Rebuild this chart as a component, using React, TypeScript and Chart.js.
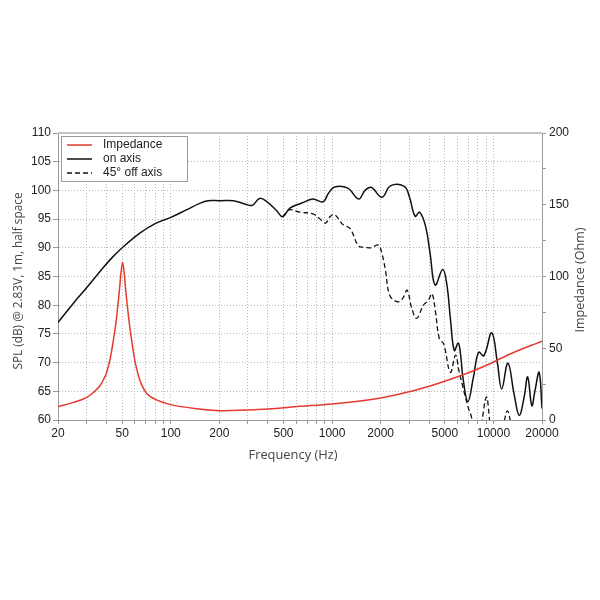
import React, { useEffect, useRef } from "react";
import { Chart, registerables } from "chart.js";

Chart.register(...registerables);

// ---- Data ----
const onAxisFreq = [20, 25, 30, 36, 43, 50, 64, 80, 100, 125, 150, 170, 200, 245, 290, 320, 355, 392, 455, 494, 547, 650, 760, 878, 950, 1035, 1250, 1460, 1600, 1755, 2036, 2300, 2800, 3013, 3270, 3490, 3800, 4050, 4350, 4850, 5150, 5420, 5720, 6050, 6250, 6470, 6950, 7510, 8090, 8720, 9760, 10600, 11250, 12300, 13450, 14450, 15500, 16300, 17300, 18060, 19200, 20000];
const onAxisSPL = [77.0, 80.4, 83.0, 85.7, 88.2, 90.0, 92.5, 94.2, 95.3, 96.6, 97.7, 98.2, 98.2, 98.2, 97.6, 97.4, 98.6, 98.1, 96.4, 95.4, 96.9, 97.8, 98.5, 98.0, 99.5, 100.6, 100.4, 98.5, 100.0, 100.5, 98.8, 100.8, 100.7, 98.9, 95.5, 96.2, 93.7, 89.0, 83.5, 86.2, 83.5, 77.4, 72.1, 73.4, 71.5, 67.4, 63.2, 67.4, 71.8, 71.2, 75.2, 69.8, 65.4, 69.9, 64.4, 60.8, 64.0, 67.5, 62.5, 65.0, 68.3, 62.0];

const offAxisFreq = [494, 542, 631, 760, 835, 910, 970, 1035, 1170, 1290, 1460, 1600, 1755, 1930, 2036, 2140, 2280, 2550, 2740, 2920, 3100, 3340, 3680, 3960, 4160, 4360, 4620, 4910, 5410, 5820, 6110, 6470, 6970, 7310, 7700, 8200, 8500, 9050, 9400, 9700, 11000, 11700, 12200, 12700, 13500];
const offAxisSPL = [95.4, 96.6, 96.2, 95.9, 95.1, 94.3, 95.4, 95.8, 94.0, 93.4, 90.3, 90.1, 90.0, 90.5, 89.0, 86.1, 81.7, 80.6, 81.2, 82.6, 79.7, 77.7, 80.0, 80.9, 82.0, 79.1, 74.2, 73.3, 68.3, 71.3, 68.6, 65.7, 62.2, 60.5, 57.0, 57.5, 60.0, 64.0, 61.0, 57.0, 57.0, 60.0, 61.6, 60.0, 56.0];

const impFreq = [20, 25, 30, 33, 36.5, 38, 40, 42, 44, 46, 48, 49.3, 50.3, 51.3, 52.6, 55, 57.3, 60, 63, 66, 71, 80, 100, 150, 200, 300, 400, 630, 1000, 2000, 3230, 5320, 8720, 12700, 20000];
const impOhm = [9.3, 12.3, 15.6, 19.0, 24.0, 27.5, 33.0, 42.0, 55.0, 70.0, 90.0, 104.0, 110.0, 104.0, 90.0, 70.0, 55.0, 41.0, 31.0, 24.5, 18.5, 14.5, 10.7, 7.7, 6.5, 7.0, 7.7, 9.5, 11.2, 15.4, 20.5, 28.0, 37.3, 46.0, 55.0];

const freqGrid = [20, 30, 40, 50, 60, 70, 80, 90, 100, 200, 300, 400, 500, 600, 700, 800, 900, 1000, 2000, 3000, 4000, 5000, 6000, 7000, 8000, 9000, 10000, 20000];
const freqLabels = [20, 50, 100, 200, 500, 1000, 2000, 5000, 10000, 20000];
const ohmLabels = [0, 50, 100, 150, 200];

const seriesNames = ["Impedance", "on axis", "45\u00b0 off axis"];
const titleLeft = "SPL (dB) @ 2.83V, 1m, half space";
const titleRight = "Impedance (Ohm)";
const titleBottom = "Frequency (Hz)";

const RED = "#e53a2f";
const TICK_FONT = "'Liberation Sans Narrow', 'Liberation Sans', Arial, sans-serif";
const TITLE_FONT = "'Open Sans', 'Noto Sans', sans-serif";

function fitText(ctx: CanvasRenderingContext2D, text: string, cx: number, cy: number, rot: number, target: number) {
  ctx.save();
  ctx.font = `13px ${TITLE_FONT}`;
  ctx.fillStyle = "#444";
  ctx.textAlign = "center";
  ctx.textBaseline = "middle";
  const w = ctx.measureText(text).width;
  const s = target / w;
  ctx.translate(cx, cy);
  ctx.rotate(rot);
  ctx.scale(s, 1);
  ctx.fillText(text, 0, 0);
  ctx.restore();
}

const decorPlugin = {
  id: "decor",
  afterDraw(chart: any) {
    const ctx = chart.ctx as CanvasRenderingContext2D;
    const a = chart.chartArea;
    // top frame line
    ctx.save();
    ctx.strokeStyle = "#c4c4c4";
    ctx.lineWidth = 2;
    ctx.beginPath();
    ctx.moveTo(a.left, a.top);
    ctx.lineTo(a.right, a.top);
    ctx.stroke();
    ctx.restore();

    // legend box
    const lx = a.left + 3, ly = a.top + 3, lw = 126, lh = 45;
    ctx.save();
    ctx.fillStyle = "#fff";
    ctx.fillRect(lx, ly, lw, lh);
    ctx.strokeStyle = "#9a9a9a";
    ctx.lineWidth = 1;
    ctx.strokeRect(lx + 0.5, ly + 0.5, lw, lh);
    chart.data.datasets.forEach((ds: any, i: number) => {
      const y = ly + 9 + i * 14;
      ctx.strokeStyle = ds.borderColor;
      ctx.lineWidth = 1.5;
      ctx.setLineDash(ds.borderDash || []);
      ctx.beginPath();
      ctx.moveTo(lx + 6, y);
      ctx.lineTo(lx + 31, y);
      ctx.stroke();
      ctx.setLineDash([]);
      ctx.fillStyle = "#222";
      ctx.font = `12px ${TICK_FONT}`;
      ctx.textAlign = "left";
      ctx.textBaseline = "middle";
      ctx.fillText(ds.label, lx + 42, y);
    });
    ctx.restore();

    // axis titles
    fitText(ctx, titleLeft, 18.5, 281, -Math.PI / 2, 177);
    fitText(ctx, titleRight, 580, 280, -Math.PI / 2, 105);
    fitText(ctx, titleBottom, 293, 455, 0, 89);
  },
};

export default function App() {
  const ref = useRef<HTMLCanvasElement | null>(null);

  useEffect(() => {
    if (!ref.current) return;
    const toPts = (xs: number[], ys: number[]) => xs.map((x, i) => ({ x, y: ys[i] }));
    const chart = new Chart(ref.current, {
      type: "line",
      data: {
        datasets: [
          {
            label: seriesNames[0],
            data: toPts(impFreq, impOhm),
            yAxisID: "yR",
            borderColor: RED,
            borderWidth: 1.5,
            pointRadius: 0,
            cubicInterpolationMode: "monotone",
          },
          {
            label: seriesNames[1],
            data: toPts(onAxisFreq, onAxisSPL),
            yAxisID: "y",
            borderColor: "#111",
            borderWidth: 1.5,
            pointRadius: 0,
            tension: 0.4,
          },
          {
            label: seriesNames[2],
            data: toPts(offAxisFreq, offAxisSPL),
            yAxisID: "y",
            borderColor: "#111",
            borderWidth: 1.3,
            borderDash: [5, 3],
            pointRadius: 0,
            tension: 0.4,
          },
        ],
      },
      options: {
        animation: false,
        responsive: false,
        parsing: false as any,
        layout: { padding: { top: 133, left: 0, right: 0, bottom: 0 } },
        plugins: {
          legend: { display: false },
          tooltip: { enabled: false },
        },
        scales: {
          x: {
            type: "logarithmic",
            min: 20,
            max: 20000,
            afterBuildTicks: (s: any) => {
              s.ticks = freqGrid.map((v) => ({ value: v }));
            },
            afterFit: (s: any) => {
              s.height = 180;
            },
            ticks: {
              autoSkip: false,
              maxRotation: 0,
              padding: 2,
              color: "#222",
              font: { family: TICK_FONT, size: 12 },
              callback: (v: any) => (freqLabels.includes(Number(v)) ? String(v) : ""),
            },
            grid: { color: "#b8b8b8", tickLength: 4, tickColor: "#999" },
            border: { color: "#999", width: 1, dash: [1, 2] },
          },
          y: {
            position: "left",
            min: 60,
            max: 110,
            afterFit: (s: any) => {
              s.width = 58;
            },
            ticks: {
              stepSize: 5,
              padding: 2,
              color: "#222",
              font: { family: TICK_FONT, size: 12 },
            },
            grid: { color: "#b8b8b8", tickLength: 5, tickColor: "#999" },
            border: { color: "#999", width: 1, dash: [1, 2] },
          },
          yR: {
            position: "right",
            min: 0,
            max: 200,
            afterFit: (s: any) => {
              s.width = 58;
            },
            ticks: {
              stepSize: 25,
              padding: 3,
              color: "#222",
              font: { family: TICK_FONT, size: 12 },
              callback: (v: any) => (ohmLabels.includes(Number(v)) ? String(v) : ""),
            },
            grid: { drawOnChartArea: false, tickLength: 4, tickColor: "#999" },
            border: { color: "#999", width: 1 },
          },
        },
      },
      plugins: [decorPlugin],
    });
    return () => chart.destroy();
  }, []);

  return (
    <div style={{ position: "absolute", left: 0, top: 0, width: 600, height: 600, background: "#fff" }}>
      <canvas ref={ref} width={600} height={600} style={{ display: "block", width: 600, height: 600 }} />
    </div>
  );
}
